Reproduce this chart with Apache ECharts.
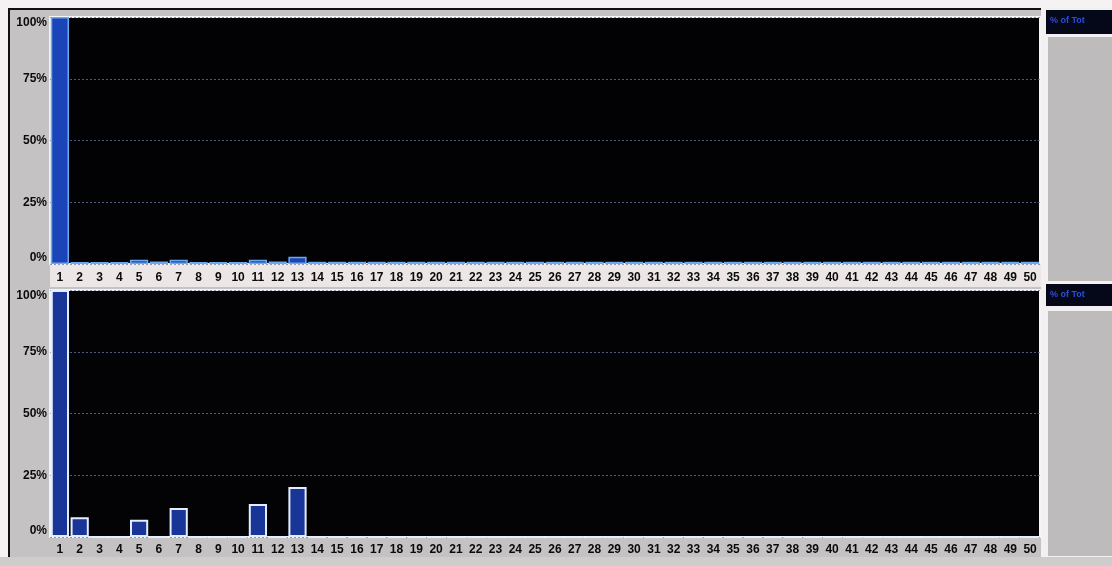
<!DOCTYPE html>
<html>
<head>
<meta charset="utf-8">
<script src="https://cdn.jsdelivr.net/npm/echarts@6/dist/echarts.min.js"></script>
<style>
html,body{margin:0;padding:0;background:#fff;}
#chart{width:1112px;height:566px;}
</style>
</head>
<body>
<div id="chart"></div>
<script>
var categories = ['1','2','3','4','5','6','7','8','9','10','11','12','13','14','15','16','17','18','19','20','21','22','23','24','25','26','27','28','29','30','31','32','33','34','35','36','37','38','39','40','41','42','43','44','45','46','47','48','49','50'];
var topValues = [100,0.8,0.8,0.8,1.7,1.0,1.7,0.8,0.8,0.8,1.7,1.0,2.9,0.9,0.9,0.9,0.9,0.9,0.9,0.9,0.9,0.9,0.9,0.9,0.9,0.9,0.9,0.9,0.9,0.9,0.9,0.9,0.9,0.9,0.9,0.9,0.9,0.9,0.9,0.9,0.9,0.9,0.9,0.9,0.9,0.9,0.9,0.9,0.9,0.9];
var bottomValues = [100,8,0,0,7,0,11.7,0,0,0,13.4,0,20.2,0,0,0,0,0,0,0,0,0,0,0,0,0,0,0,0,0,0,0,0,0,0,0,0,0,0,0,0,0,0,0,0,0,0,0,0,0];
var yTicks = [0,25,50,75,100];
var legendLabel = '% of Tot';

var chart = echarts.init(document.getElementById('chart'));

function yAxis(idx){
  return {
    type:'value', gridIndex:idx, min:yTicks[0], max:yTicks[yTicks.length-1], interval:25,
    axisLine:{show:false}, axisTick:{show:false},
    axisLabel:{formatter:'{value}%', color:'#0a0a0a', fontWeight:'bold', fontSize:12,
      fontFamily:'Liberation Sans', margin:3,
      verticalAlignMaxLabel:'top', verticalAlignMinLabel:'bottom'},
    splitLine:{show:true, lineStyle:{color:'#6a78a4', type:[2,2], width:1, opacity:0.75}}
  };
}
function xAxis(idx, margin){
  return {
    type:'category', gridIndex:idx, data:categories,
    axisLine:{show:false}, axisTick:{show:false},
    axisLabel:{interval:0, color:'#0a0a0a', fontWeight:'bold', fontSize:12,
      fontFamily:'Liberation Sans', margin:margin}
  };
}

chart.setOption({
  animation:false,
  backgroundColor:'#c5c2c3',
  graphic:[
    {type:'rect', shape:{x:0,y:0,width:1112,height:8}, style:{fill:'#f4f2f2'}, z:-10},
    {type:'rect', shape:{x:0,y:0,width:8,height:566}, style:{fill:'#f4f2f2'}, z:-10},
    {type:'rect', shape:{x:8,y:8,width:1040,height:2}, style:{fill:'#111'}, z:-9},
    {type:'rect', shape:{x:8,y:8,width:2,height:558}, style:{fill:'#111'}, z:-9},
    {type:'rect', shape:{x:50,y:265,width:992,height:22}, style:{fill:'#ece6e6'}, z:-8},
    {type:'rect', shape:{x:1041,y:8,width:6,height:550}, style:{fill:'#f2f0f0'}, z:-8},
    {type:'rect', shape:{x:1047,y:8,width:65,height:550}, style:{fill:'#f2f0f0'}, z:-8},
    {type:'rect', shape:{x:1046,y:10,width:66,height:24}, style:{fill:'#050818'}, z:-7},
    {type:'rect', shape:{x:1048,y:37,width:64,height:244}, style:{fill:'#bdbbbb'}, z:-7},
    {type:'rect', shape:{x:1046,y:284,width:66,height:22}, style:{fill:'#050818'}, z:-7},
    {type:'rect', shape:{x:1048,y:311,width:64,height:245}, style:{fill:'#bdbbbb'}, z:-7},
    {type:'rect', shape:{x:0,y:557,width:1112,height:9}, style:{fill:'#cfcccc'}, z:-7},
    {type:'text', left:1050, top:16, style:{text:legendLabel, fill:'#2a4ee0', font:'bold 9px "Liberation Sans"'}},
    {type:'text', left:1050, top:290, style:{text:legendLabel, fill:'#2a4ee0', font:'bold 9px "Liberation Sans"'}}
  ],
  grid:[
    {left:50, top:17, width:990, height:247, show:true, backgroundColor:'#020204', borderColor:'#f4f4f4', borderWidth:2},
    {left:50, top:290, width:990, height:247, show:true, backgroundColor:'#030305', borderColor:'#f4f4f4', borderWidth:2}
  ],
  xAxis:[xAxis(0,8), xAxis(1,7)],
  yAxis:[yAxis(0), yAxis(1)],
  series:[
    {type:'bar', xAxisIndex:0, yAxisIndex:0, data:topValues, barCategoryGap:'8%',
     itemStyle:{color:'#1a44b8', borderColor:'#6aaaf0', borderWidth:1.5}},
    {type:'bar', xAxisIndex:1, yAxisIndex:1, data:bottomValues, barCategoryGap:'8%',
     itemStyle:{color:'#1a3598', borderColor:'#e4ecff', borderWidth:2}}
  ]
});
</script>
</body>
</html>
